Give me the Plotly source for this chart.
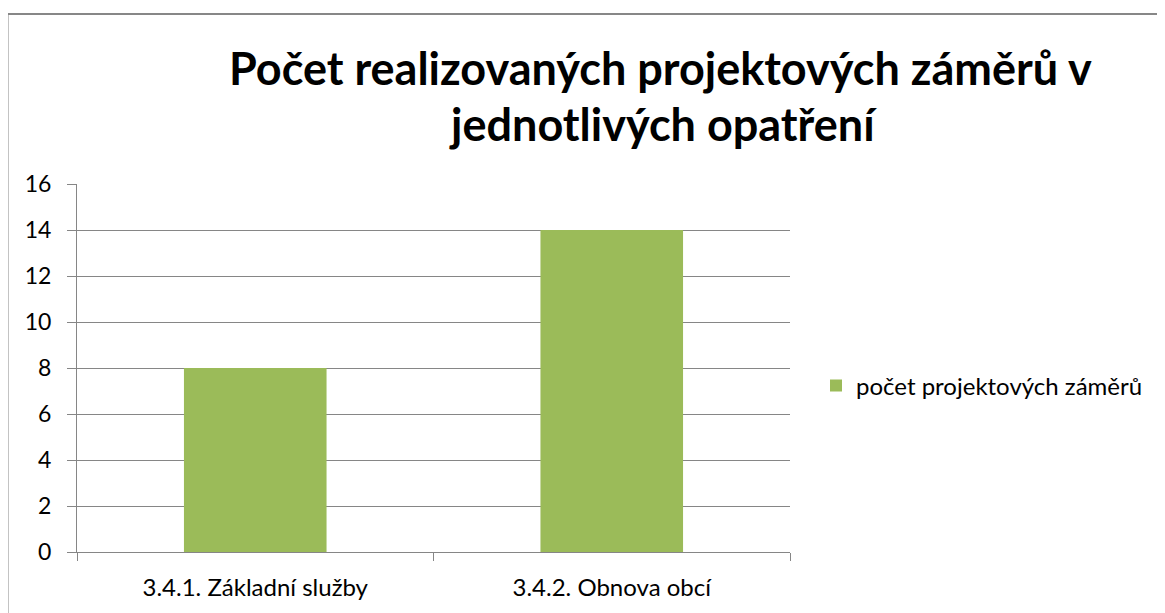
import plotly.graph_objects as go

categories = ["3.4.1. Základní služby", "3.4.2. Obnova obcí"]
values = [8, 14]
series_name = "počet projektových záměrů"
title_line1 = "Počet realizovaných projektových záměrů v"
title_line2 = "jednotlivých opatření"
y_ticks = [0, 2, 4, 6, 8, 10, 12, 14, 16]

OFF = 8  # default page body margin
W, H = 1165 - OFF, 613 - OFF
# plot area bounds in screen pixels
L, R, T, B = 77 - OFF, 790 - OFF, 184 - OFF, 552 - OFF


def px_x(p):
    return (p - OFF - L) / (R - L)


def px_y(p):
    return (B - (p - OFF)) / (B - T)


FONT = "Lato"
GRID = "#868686"

fig = go.Figure()
fig.add_trace(go.Bar(
    x=categories, y=values, name=series_name,
    marker=dict(color="#9BBB59", line=dict(width=0)),
    showlegend=True,
))

fig.update_layout(
    width=W, height=H,
    margin=dict(l=L, r=W - R, t=T, b=H - B, pad=0),
    paper_bgcolor="white", plot_bgcolor="white",
    bargap=0.6,
    showlegend=True,
    font=dict(family=FONT, color="black", size=22),
    legend=dict(
        x=px_x(816), y=px_y(386), xanchor="left", yanchor="middle",
        font=dict(family=FONT, size=24, color="black"),
        itemwidth=30, bgcolor="rgba(0,0,0,0)",
    ),
    xaxis=dict(
        type="category",
        showline=True, linecolor=GRID, linewidth=1,
        ticks="outside", tickson="boundaries", ticklen=8, tickcolor=GRID,
        showgrid=False,
        tickfont=dict(family=FONT, size=24, color="black"),
        ticklabelstandoff=14,
    ),
    yaxis=dict(
        range=[0, 16], tickvals=y_ticks,
        showline=True, linecolor=GRID, linewidth=1,
        ticks="outside", ticklen=9, tickcolor=GRID,
        showgrid=True, gridcolor=GRID, gridwidth=1,
        zeroline=False,
        tickfont=dict(family=FONT, size=23, color="black"),
        ticklabelstandoff=11,
    ),
    shapes=[dict(
        type="rect", xref="paper", yref="paper",
        x0=px_x(7.5), x1=px_x(1200), y0=px_y(660), y1=px_y(14),
        line=dict(color="#878787", width=2), fillcolor="rgba(0,0,0,0)",
        layer="below",
    )],
    annotations=[
        dict(text="<b>%s</b>" % title_line1, x=px_x(660), y=px_y(68),
             xref="paper", yref="paper", xanchor="center", yanchor="middle",
             showarrow=False, font=dict(family=FONT, size=45, color="black")),
        dict(text="<b>%s</b>" % title_line2, x=px_x(663), y=px_y(124),
             xref="paper", yref="paper", xanchor="center", yanchor="middle",
             showarrow=False, font=dict(family=FONT, size=45, color="black")),
    ],
)

fig.write_html("out.html")
